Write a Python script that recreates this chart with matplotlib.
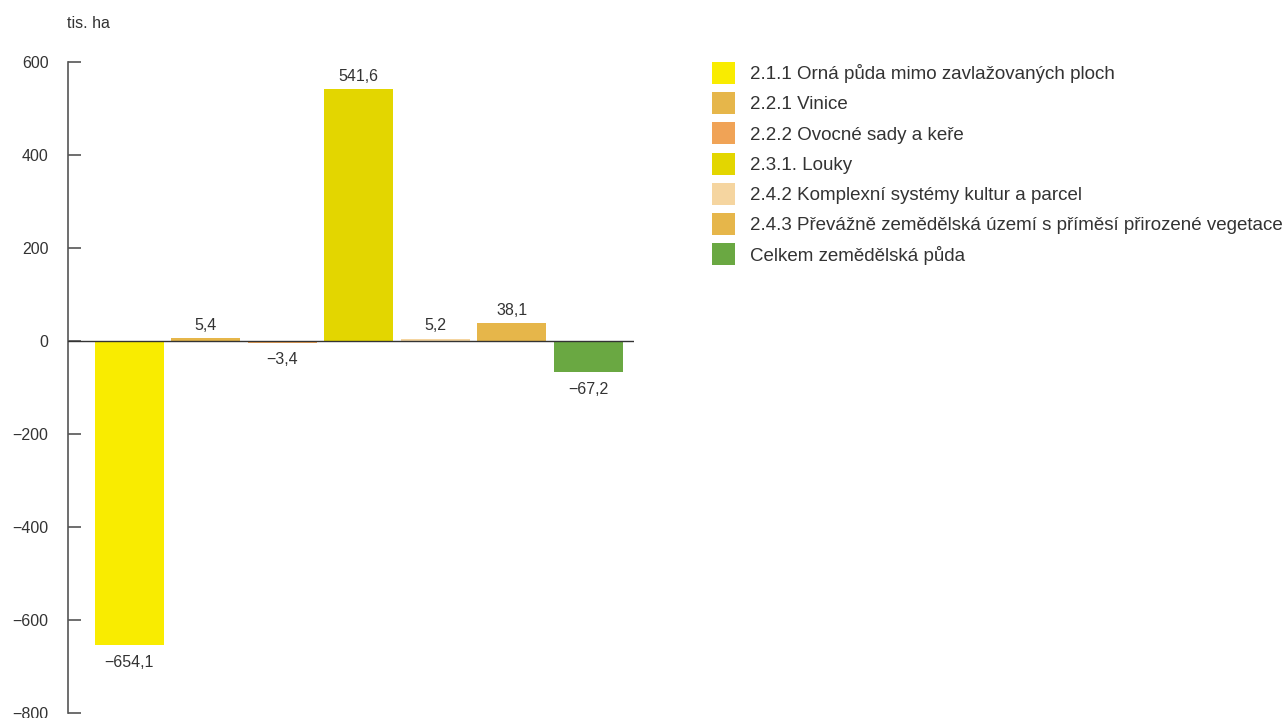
import numpy as np
import matplotlib.pyplot as plt

plt.rcParams['font.family'] = ['Liberation Sans', 'DejaVu Sans']

# data
kategorie = ['2.1.1 Orná půda mimo zavlažovaných ploch',
             '2.2.1 Vinice',
             '2.2.2 Ovocné sady a keře',
             '2.3.1. Louky',
             '2.4.2 Komplexní systémy kultur a parcel',
             '2.4.3 Převážně zemědělská území s příměsí přirozené vegetace',
             'Celkem zemědělská půda']
hodnoty = [-654.1, 5.4, -3.4, 541.6, 5.2, 38.1, -67.2]
barvy = ['#F9EC00', '#E6B64A', '#F0A356', '#E3D600', '#F5D5A0', '#E6B64A', '#6AA842']
yticks = [-800, -600, -400, -200, 0, 200, 400, 600]

fig = plt.figure(figsize=(12.86, 7.18), dpi=100)
ax = fig.add_axes([68/1286, 1-713/718, (634-68)/1286, (713-62)/718])

x = np.arange(len(hodnoty))
bars = ax.bar(x, hodnoty, width=0.9, color=barvy, label=kategorie, zorder=2)
ax.axhline(0, color='#333333', lw=1, zorder=3)

# popisky hodnot
for xi, v in zip(x, hodnoty):
    txt = f'{abs(v):.1f}'.replace('.', ',')
    if v < 0:
        txt = '\u2212' + txt
        ax.annotate(txt, (xi, v), xytext=(0, -7), textcoords='offset points',
                    ha='center', va='top', fontsize=11.5, color='#333333')
    else:
        ax.annotate(txt, (xi, v), xytext=(0, 4), textcoords='offset points',
                    ha='center', va='bottom', fontsize=11.5, color='#333333')

ax.set_xlim(-0.8, 6.6)
ax.set_ylim(-800, 600)
ax.set_yticks(yticks)
ax.set_yticklabels([str(t).replace('-', '\u2212') for t in yticks])
ax.set_xticks([])
ax.tick_params(axis='y', direction='in', length=9, width=1.2, color='#555555',
               labelsize=11.5, labelcolor='#333333', pad=14)
for s in ['top', 'right', 'bottom']:
    ax.spines[s].set_visible(False)
ax.spines['left'].set_color('#555555')
ax.spines['left'].set_linewidth(1.2)

fig.text(67/1286, 1-23/718, 'tis. ha', fontsize=11.5, color='#333333',
         ha='left', va='center')

leg = fig.legend(handles=bars, labels=kategorie, loc='upper left',
                 bbox_to_anchor=(712/1286, 1-62/718), frameon=False,
                 fontsize=13.5, handlelength=1.23, handleheight=1.42,
                 labelspacing=0.445, handletextpad=0.8, borderpad=0,
                 borderaxespad=0)
for t in leg.get_texts():
    t.set_color('#333333')

fig.savefig('out.png', dpi=100)
